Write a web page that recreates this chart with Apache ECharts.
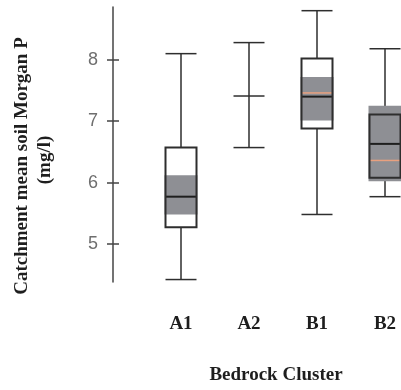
<!DOCTYPE html>
<html>
<head>
<meta charset="utf-8">
<script src="https://cdn.jsdelivr.net/npm/echarts@6/dist/echarts.min.js"></script>
<style>
  html, body { margin: 0; padding: 0; background: #fff; }
  #chart { width: 401px; height: 390px; }
</style>
</head>
<body>
<div id="chart"></div>
<script>
// Bedrock clusters and their Morgan P summary statistics (mg/l)
const categories = ['A1', 'A2', 'B1', 'B2'];
const whiskerLow  = [4.42, 6.57, 5.48, 5.77];
const quart1      = [5.27, null, 6.88, 6.08];
const median      = [5.77, 7.41, 7.40, 6.63];
const quart3      = [6.57, null, 8.02, 7.11];
const whiskerHigh = [8.10, 8.28, 8.80, 8.18];
const bandLow     = [5.48, null, 7.01, 6.02];
const bandHigh    = [6.12, null, 7.72, 7.25];
const meanLine    = [null, null, 7.46, 6.36];
const yTicks = [5, 6, 7, 8];

const toNum = v => (v === null ? NaN : v);
const rows = categories.map((c, i) => [
  i, whiskerLow[i], toNum(quart1[i]), median[i], toNum(quart3[i]),
  whiskerHigh[i], toNum(bandLow[i]), toNum(bandHigh[i]), toNum(meanLine[i])
]);

const INK = '#2e2e2e';
const BOX_W = 31;

function renderItem(params, api) {
  const i = api.value(0);
  const y = v => api.coord([i, v])[1];
  const x = api.coord([i, 0])[0];
  const half = BOX_W / 2;
  const lo = api.value(1), q1 = api.value(2), med = api.value(3),
        q3 = api.value(4), hi = api.value(5), bl = api.value(6),
        bh = api.value(7), mn = api.value(8);
  const line = (x1, y1, x2, y2, color, w) => ({
    type: 'line', shape: { x1, y1, x2, y2 },
    style: { stroke: color, lineWidth: w }
  });
  const kids = [];
  kids.push(line(x, y(lo), x, y(hi), INK, 1.5));
  kids.push(line(x - half, y(lo), x + half, y(lo), INK, 1.5));
  kids.push(line(x - half, y(hi), x + half, y(hi), INK, 1.5));
  if (!isNaN(q1) && !isNaN(q3)) {
    kids.push({ type: 'rect',
      shape: { x: x - half, y: y(q3), width: BOX_W, height: y(q1) - y(q3) },
      style: { fill: '#ffffff', stroke: null } });
    if (!isNaN(bl) && !isNaN(bh)) {
      kids.push({ type: 'rect',
        shape: { x: x - half - 1, y: y(bh), width: BOX_W + 2, height: y(bl) - y(bh) },
        style: { fill: '#8e8f94', stroke: null } });
    }
    if (!isNaN(mn)) {
      kids.push(line(x - half, y(mn), x + half, y(mn), '#e8a07f', 1.5));
    }
    kids.push(line(x - half, y(med), x + half, y(med), '#1e1e1e', 2));
    kids.push({ type: 'rect',
      shape: { x: x - half, y: y(q3), width: BOX_W, height: y(q1) - y(q3) },
      style: { fill: null, stroke: INK, lineWidth: 2 } });
  } else {
    kids.push(line(x - half, y(med), x + half, y(med), INK, 1.5));
  }
  return { type: 'group', children: kids };
}

const chart = echarts.init(document.getElementById('chart'), null, { renderer: 'canvas' });
chart.setOption({
  backgroundColor: '#ffffff',
  animation: false,
  grid: { left: 181, right: 16, top: 7, bottom: 107, containLabel: false },
  xAxis: {
    type: 'category',
    data: categories,
    boundaryGap: false,
    axisLine: { show: false },
    axisTick: { show: false },
    splitLine: { show: false },
    axisLabel: {
      margin: 33,
      color: '#1e1e1e',
      fontFamily: 'Liberation Serif',
      fontWeight: 'bold',
      fontSize: 19
    },
    name: 'Bedrock Cluster',
    nameLocation: 'middle',
    nameGap: 84,
    nameTextStyle: {
      color: '#1e1e1e',
      fontFamily: 'Liberation Serif',
      fontWeight: 'bold',
      fontSize: 19,
      padding: [0, 14, 0, 0]
    }
  },
  yAxis: [
    {
      type: 'value', min: 4.38, max: 8.86, position: 'left', offset: 68,
      axisLine: { show: true, lineStyle: { color: '#444', width: 1.5 } },
      axisTick: { show: true, customValues: yTicks, length: 6, lineStyle: { color: '#444', width: 1.5 } },
      axisLabel: {
        customValues: yTicks, margin: 15, color: '#6e6e6e',
        fontFamily: 'Liberation Sans', fontSize: 18
      },
      splitLine: { show: false }
    },
    {
      type: 'value', min: 4.38, max: 8.86, position: 'left', offset: 68,
      axisLine: { show: false },
      axisTick: { show: true, inside: true, customValues: yTicks, length: 6, lineStyle: { color: '#444', width: 1.5 } },
      axisLabel: { show: false },
      splitLine: { show: false }
    }
  ],
  graphic: [
    {
      type: 'text', x: 22, y: 166, rotation: Math.PI / 2,
      style: {
        text: 'Catchment mean soil Morgan P',
        fill: '#1e1e1e', font: 'bold 19px "Liberation Serif"',
        align: 'center', verticalAlign: 'middle'
      }
    },
    {
      type: 'text', x: 45, y: 160, rotation: Math.PI / 2,
      style: {
        text: '(mg/l)',
        fill: '#1e1e1e', font: 'bold 19px "Liberation Serif"',
        align: 'center', verticalAlign: 'middle'
      }
    }
  ],
  series: [{
    type: 'custom',
    renderItem: renderItem,
    encode: { x: 0, y: [1, 5] },
    data: rows,
    clip: false
  }]
});
</script>
</body>
</html>
